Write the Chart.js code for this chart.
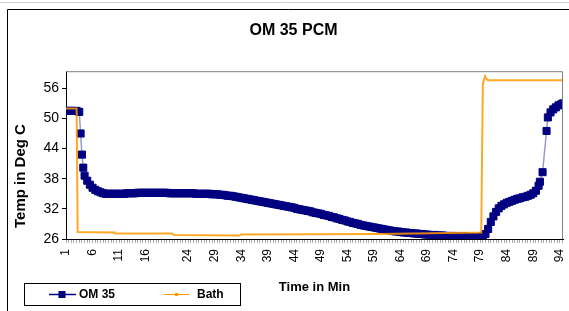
<!DOCTYPE html>
<html><head><meta charset="utf-8">
<script src="https://cdn.jsdelivr.net/npm/chart.js@4.4.0/dist/chart.umd.min.js"></script>
<style>html,body{margin:0;padding:0;background:#fff;}#wrap{width:569px;height:311px;}</style>
</head><body><div id="wrap"><canvas id="c" width="569" height="311"></canvas></div>
<script>
// ---- data ----
const chartTitle = 'OM 35 PCM';
const xTitle = 'Time in Min';
const yTitle = 'Temp in Deg C';
const seriesNames = ['OM 35', 'Bath'];
const xTickLabels = [1, 6, 11, 16, 24, 29, 34, 39, 44, 49, 54, 59, 64, 69, 74, 79, 84, 89, 94];
const yTickValues = [26, 32, 38, 44, 50, 56];

const omTime = [
  1, 1.5, 2, 2.5, 3, 3.5, 3.75, 4, 4.25, 4.5,
  5, 5.5, 6, 6.5, 7, 7.5, 8, 8.5, 9, 9.5,
  10, 10.5, 11, 11.5, 12, 12.5, 13, 13.5, 14, 14.5,
  15, 15.5, 16, 16.5, 17, 17.5, 18, 18.5, 19, 19.5,
  20, 20.5, 21, 21.5, 22, 22.5, 23, 23.5, 24, 24.5,
  25, 25.5, 26, 26.5, 27, 27.5, 28, 28.5, 29, 29.5,
  30, 30.5, 31, 31.5, 32, 32.5, 33, 33.5, 34, 34.5,
  35, 35.5, 36, 36.5, 37, 37.5, 38, 38.5, 39, 39.5,
  40, 40.5, 41, 41.5, 42, 42.5, 43, 43.5, 44, 44.5,
  45, 45.5, 46, 46.5, 47, 47.5, 48, 48.5, 49, 49.5,
  50, 50.5, 51, 51.5, 52, 52.5, 53, 53.5, 54, 54.5,
  55, 55.5, 56, 56.5, 57, 57.5, 58, 58.5, 59, 59.5,
  60, 60.5, 61, 61.5, 62, 62.5, 63, 63.5, 64, 64.5,
  65, 65.5, 66, 66.5, 67, 67.5, 68, 68.5, 69, 69.5,
  70, 70.5, 71, 71.5, 72, 72.5, 73, 73.5, 74, 74.5,
  75, 75.5, 76, 76.5, 77, 77.5, 78, 78.5, 79, 79.5,
  80, 80.5, 81, 81.5, 82, 82.5, 83, 83.5, 84, 84.5,
  85, 85.5, 86, 86.5, 87, 87.5, 88, 88.5, 89, 89.5,
  90, 90.25, 90.75, 91.5, 91.75, 92.25, 92.75, 93.25, 93.75, 94.25, 94.6
];
const omTemp = [
  51.5, 51.5, 51.5, 51.5, 51.5, 51.3, 47.0, 42.8, 40.2, 38.6,
  37.6, 36.8, 36.2, 35.8, 35.5, 35.3, 35.1, 35.0, 35.0, 35.0,
  35.0, 35.0, 35.0, 35.0, 35.0, 35.1, 35.1, 35.1, 35.1, 35.2,
  35.2, 35.2, 35.2, 35.2, 35.2, 35.2, 35.2, 35.2, 35.2, 35.2,
  35.2, 35.1, 35.1, 35.1, 35.1, 35.1, 35.1, 35.1, 35.1, 35.1,
  35.1, 35.0, 35.0, 35.0, 35.0, 35.0, 35.0, 34.9, 34.9, 34.9,
  34.8, 34.8, 34.7, 34.6, 34.6, 34.5, 34.4, 34.3, 34.2, 34.1,
  34.0, 33.9, 33.8, 33.7, 33.6, 33.5, 33.4, 33.3, 33.2, 33.1,
  33.0, 32.9, 32.8, 32.7, 32.6, 32.5, 32.4, 32.3, 32.2, 32.0,
  31.9, 31.8, 31.7, 31.6, 31.5, 31.3, 31.2, 31.1, 31.0, 30.8,
  30.7, 30.6, 30.4, 30.3, 30.1, 30.0, 29.8, 29.7, 29.5, 29.4,
  29.2, 29.1, 29.0, 28.8, 28.7, 28.6, 28.5, 28.4, 28.3, 28.2,
  28.1, 28.0, 27.9, 27.8, 27.7, 27.6, 27.5, 27.5, 27.4, 27.3,
  27.3, 27.2, 27.2, 27.1, 27.1, 27.0, 27.0, 26.9, 26.9, 26.8,
  26.8, 26.8, 26.7, 26.7, 26.7, 26.6, 26.6, 26.6, 26.6, 26.5,
  26.5, 26.5, 26.5, 26.5, 26.4, 26.4, 26.4, 26.4, 26.4, 26.6,
  27.0, 28.0, 29.4, 30.5, 31.4, 32.1, 32.6, 32.9, 33.2, 33.4,
  33.6, 33.8, 34.0, 34.1, 34.3, 34.4, 34.6, 34.8, 35.1, 35.6,
  36.6, 37.4, 39.3, 47.5, 50.2, 51.2, 51.8, 52.2, 52.6, 52.8, 53.0
];
const bathTime = [1, 3.0, 3.2, 10.2, 10.3, 21, 21.3, 33.6, 34, 60, 79.2, 79.5, 79.9, 80.4, 94.6];
const bathTemp = [52.0, 52.0, 27.4, 27.3, 27.1, 27.1, 26.8, 26.7, 26.9, 27.0, 27.3, 56.8, 58.4, 57.6, 57.6];

// ---- styles ----
const NAVY = '#000080';
const ORANGE = '#FF9900';
Chart.defaults.font.family = "'Liberation Sans', Arial, sans-serif";
Chart.defaults.color = '#000';

const minorTicks = [];
for (let v = 1; v <= 94.6; v += 0.5) minorTicks.push(v);

const deco = {
  id: 'deco',
  beforeDraw(chart) {
    const ctx = chart.ctx;
    ctx.save();
    ctx.fillStyle = '#fff';
    ctx.fillRect(0, 0, chart.width, chart.height);
    ctx.strokeStyle = '#d0d0d0';
    ctx.lineWidth = 1;
    ctx.beginPath(); ctx.moveTo(0, 2.5); ctx.lineTo(569, 2.5); ctx.stroke();
    ctx.strokeStyle = '#000';
    ctx.beginPath(); ctx.moveTo(7.5, 311); ctx.lineTo(7.5, 9.5); ctx.lineTo(569, 9.5); ctx.stroke();
    ctx.restore();
  },
  afterDraw(chart) {
    const ctx = chart.ctx, a = chart.chartArea;
    ctx.save();
    ctx.strokeStyle = '#808080';
    ctx.lineWidth = 1;
    ctx.beginPath();
    ctx.moveTo(a.left, a.top + 0.5); ctx.lineTo(a.right - 0.5, a.top + 0.5); ctx.lineTo(a.right - 0.5, a.bottom);
    ctx.stroke();
    ctx.fillStyle = '#000';
    ctx.font = "bold 15px 'Liberation Sans', Arial, sans-serif";
    ctx.textAlign = 'center';
    ctx.textBaseline = 'middle';
    ctx.translate(21, 176);
    ctx.rotate(-Math.PI / 2);
    ctx.fillText(yTitle, 0, 0);
    ctx.setTransform(1, 0, 0, 1, 0, 0);
    ctx.strokeStyle = '#000';
    ctx.strokeRect(24.5, 283.5, 216, 22);
    const ly = 294.5;
    ctx.strokeStyle = NAVY; ctx.lineWidth = 1.5;
    ctx.beginPath(); ctx.moveTo(49, ly); ctx.lineTo(76, ly); ctx.stroke();
    ctx.fillStyle = NAVY; ctx.fillRect(58.5, ly - 3.5, 7, 7);
    ctx.strokeStyle = ORANGE; ctx.lineWidth = 1;
    ctx.beginPath(); ctx.moveTo(164, ly); ctx.lineTo(189, ly); ctx.stroke();
    ctx.fillStyle = ORANGE; ctx.fillRect(175, ly - 1.5, 3, 3);
    ctx.fillStyle = '#000';
    ctx.font = "bold 12px 'Liberation Sans', Arial, sans-serif";
    ctx.textAlign = 'left';
    ctx.textBaseline = 'middle';
    ctx.fillText(seriesNames[0], 79, ly);
    ctx.fillText(seriesNames[1], 197, ly);
    ctx.restore();
  }
};

new Chart(document.getElementById('c'), {
  type: 'line',
  data: {
    datasets: [
      {
        label: seriesNames[0],
        data: omTime.map((t, i) => ({ x: t, y: omTemp[i] })),
        borderColor: 'rgba(0,0,128,0.4)',
        borderWidth: 1.5,
        pointStyle: 'rect',
        pointRadius: 5,
        pointBackgroundColor: NAVY,
        pointBorderColor: NAVY,
        pointBorderWidth: 1,
        tension: 0,
        order: 1
      },
      {
        label: seriesNames[1],
        data: bathTime.map((t, i) => ({ x: t, y: bathTemp[i] })),
        borderColor: 'rgba(255,153,0,0.85)',
        borderWidth: 2,
        pointRadius: 0,
        tension: 0,
        order: 0
      }
    ]
  },
  options: {
    responsive: false,
    animation: false,
    devicePixelRatio: 1,
    layout: { padding: { left: 22, right: 4, top: 0, bottom: 0 } },
    plugins: {
      legend: { display: false },
      tooltip: { enabled: false },
      title: {
        display: true, text: chartTitle, color: '#000',
        font: { size: 16, weight: 'bold' },
        padding: { top: 21, bottom: 31 }
      }
    },
    scales: {
      x: {
        type: 'linear', min: 1, max: 94.6,
        afterBuildTicks: s => { s.ticks = minorTicks.map(v => ({ value: v })); },
        ticks: {
          autoSkip: false, minRotation: 90, maxRotation: 90, padding: 6,
          font: { size: 12 }, color: '#000',
          callback: v => xTickLabels.includes(v) ? String(v) : ''
        },
        grid: { display: true, drawOnChartArea: false, drawTicks: true, tickLength: 4, color: '#aaaaaa' },
        border: { display: true, color: '#000', width: 1 },
        title: { display: true, text: xTitle, color: '#000', font: { size: 13, weight: 'bold' }, padding: { top: 0, bottom: 16 } },
        afterFit: s => { s.height = 72; s.paddingLeft = 0; s.paddingRight = 0; }
      },
      y: {
        type: 'linear', min: 26, max: 59.4,
        afterBuildTicks: s => { s.ticks = yTickValues.map(v => ({ value: v })); },
        ticks: { font: { size: 14 }, color: '#000', padding: 3 },
        grid: { display: true, drawOnChartArea: false, tickLength: 4, color: '#000' },
        border: { display: true, color: '#000', width: 1 },
        afterFit: s => { s.width = 44; s.paddingTop = 0; s.paddingBottom = 0; }
      }
    }
  },
  plugins: [deco]
});
</script></body></html>
